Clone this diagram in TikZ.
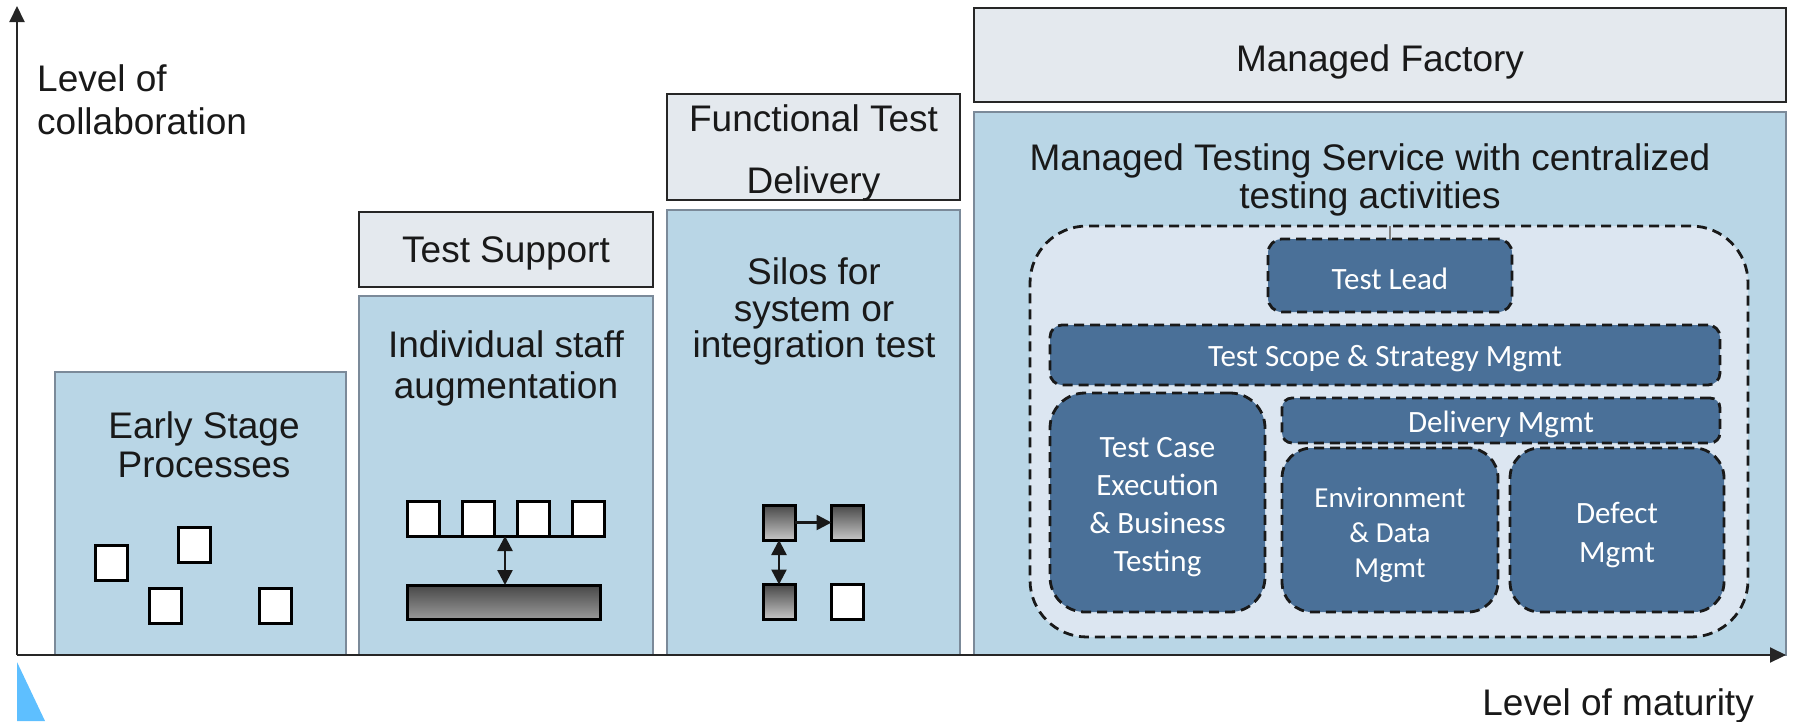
\documentclass[tikz,border=0pt]{standalone}
\usepackage{fontspec}
\setmainfont{Liberation Sans}
\newfontfamily\calf{Carlito}
\usetikzlibrary{arrows.meta}
\definecolor{boxblue}{HTML}{B9D6E6}
\definecolor{boxedge}{HTML}{7B8A99}
\definecolor{hdrfill}{HTML}{E4E9EE}
\definecolor{contfill}{HTML}{DCE6F1}
\definecolor{innerblue}{HTML}{4A7098}
\definecolor{trifill}{HTML}{5EBFFF}
\begin{document}
\begin{tikzpicture}[x=1pt,y=-1pt,
  bluebox/.style={draw=boxedge, fill=boxblue, line width=2.5pt, inner sep=0pt, outer sep=0pt},
  hdr/.style={draw=black!85, fill=hdrfill, line width=2.5pt, inner sep=0pt, outer sep=0pt},
  lbl/.style={font=\fontsize{37}{43}\selectfont, align=center, inner sep=0pt, text=black!90},
  wsq/.style={draw=black, fill=white, line width=3pt, minimum width=32pt, minimum height=35pt, inner sep=0pt, outer sep=0pt},
  gsq/.style={draw=black, top color=black!72, bottom color=black!22, line width=3pt, minimum width=32pt, minimum height=35pt, inner sep=0pt, outer sep=0pt},
  conn/.style={draw=black!90, line width=2.5pt},
  dtip/.style={{Triangle[length=15pt,width=15pt]}-{Triangle[length=15pt,width=15pt]}},
  stip/.style={-{Triangle[length=15pt,width=15pt]}},
  ibox/.style={draw=black!90, dash pattern=on 10pt off 6pt, fill=innerblue, line width=2.8pt, inner sep=0pt, outer sep=0pt},
  itxt/.style={text=white, font=\calf\fontsize{31}{38}\selectfont, align=center, inner sep=0pt},
  axis/.style={draw=black!85, line width=2pt, -{Triangle[length=16pt,width=15pt]}}
]
\useasboundingbox (0,0) rectangle (1793,721);

% bottom-left triangle
\fill[trifill] (17,662) -- (17,721) -- (45,721) -- cycle;

% columns
\node[bluebox, minimum width=291pt, minimum height=283pt] (early) at (200.5,513.5) {};
\node[bluebox, minimum width=294pt, minimum height=359pt] (staff) at (506,475.5) {};
\node[hdr, minimum width=294pt, minimum height=75pt] (tsup) at (506,249.5) {};
\node[bluebox, minimum width=293pt, minimum height=445pt] (silo) at (813.5,432.5) {};
\node[hdr, minimum width=293pt, minimum height=106pt] (ftd) at (813.5,147) {};
\node[bluebox, minimum width=812pt, minimum height=543pt] (mts) at (1380,383.5) {};
\node[hdr, minimum width=812pt, minimum height=94pt] (mf) at (1380,55) {};

% axes
\coordinate (O) at (17,655);
\coordinate (ytop) at (17,6);
\coordinate (xend) at (1786,655);
\draw[axis] (O) -- (ytop);
\draw[axis] (O) -- (xend);

% labels
\node[lbl, align=left, anchor=west] (ylab) at (37,100) {Level of\\collaboration};
\node[lbl, anchor=east] (xlab) at (1754,705.5) {Level of maturity};
\node[lbl, font=\fontsize{37}{39}\selectfont] (earlyt) at (204,445) {Early Stage\\Processes};
\node[lbl] (tsupt) at (506,253.5) {Test Support};
\node[lbl, font=\fontsize{37}{41}\selectfont] (stafft) at (506,368.5) {Individual staff\\augmentation};
\node[lbl, font=\fontsize{37}{62}\selectfont] (ftdt) at (813.5,152.5) {Functional Test\\Delivery};
\node[lbl, font=\fontsize{37}{36.5}\selectfont] (silot) at (814,311.5) {Silos for\\system or\\integration test};
\node[lbl] (mft) at (1380,61.5) {Managed Factory};
\node[lbl, font=\fontsize{37}{38}\selectfont] (mtst) at (1370,179.5) {Managed Testing Service with centralized\\testing activities};

% early squares
\node[wsq] (e1) at (111,562.5) {};
\node[wsq] (e2) at (194.5,544.5) {};
\node[wsq] (e3) at (165.5,606) {};
\node[wsq] (e4) at (275.5,606) {};

% staff squares
\node[wsq] (s1) at (423,519) {};
\node[wsq] (s2) at (478,519) {};
\node[wsq] (s3) at (533,519) {};
\node[wsq] (s4) at (588,519) {};
\node[draw=black, top color=black!72, bottom color=black!40, line width=3pt, minimum width=193pt, minimum height=34pt, inner sep=0pt, outer sep=0pt] (bar) at (503.5,602) {};
\draw[draw=black, line width=2.5pt] (s1.south west) -- (s4.south east);
\coordinate (sm) at (505,536);
\draw[conn, dtip] (sm) -- (sm |- bar.north);

% silo squares
\node[gsq] (g1) at (779,522.5) {};
\node[gsq] (g2) at (847.5,522.5) {};
\node[gsq] (g3) at (779,602) {};
\node[wsq] (g4) at (847.5,602) {};
\draw[conn, stip] (g1.east) -- (g2.west);
\draw[conn, dtip] (g1.south) -- (g3.north);

% managed testing container
\node[draw=black!90, dash pattern=on 10pt off 6pt, fill=contfill, line width=2.8pt, rounded corners=57pt, minimum width=718pt, minimum height=411pt, inner sep=0pt, outer sep=0pt] (cont) at (1389,431.5) {};
\node[ibox, rounded corners=14pt, minimum width=244pt, minimum height=73pt] (lead) at (1390,275.5) {};
\draw[draw=black!50, line width=2.5pt] (lead.north) -- (lead.north |- cont.north);
\node[ibox, rounded corners=12pt, minimum width=670pt, minimum height=60pt] (scope) at (1385,355) {};
\node[ibox, rounded corners=35pt, minimum width=215pt, minimum height=219pt] (tce) at (1157.5,502.5) {};
\node[ibox, rounded corners=10pt, minimum width=438pt, minimum height=45pt] (deliv) at (1501,420.5) {};
\node[ibox, rounded corners=30pt, minimum width=216pt, minimum height=164pt] (env) at (1390,530) {};
\node[ibox, rounded corners=30pt, minimum width=214pt, minimum height=164pt] (defect) at (1617,530) {};

\node[itxt] (leadt) at ([yshift=-3pt]lead.center) {Test Lead};
\node[itxt] (scopet) at ([yshift=-4pt]scope.center) {Test Scope \& Strategy Mgmt};
\node[itxt] (tcet) at ([yshift=-5pt]tce.center) {Test Case\\Execution\\\& Business\\Testing};
\node[itxt] (delivt) at ([yshift=-4pt]deliv.center) {Delivery Mgmt};
\node[itxt, font=\calf\fontsize{29}{35}\selectfont] (envt) at ([yshift=-5pt]env.center) {Environment\\\& Data\\Mgmt};
\node[itxt, font=\calf\fontsize{31}{39}\selectfont] (defectt) at ([yshift=-5pt]defect.center) {Defect\\Mgmt};
\end{tikzpicture}
\end{document}
